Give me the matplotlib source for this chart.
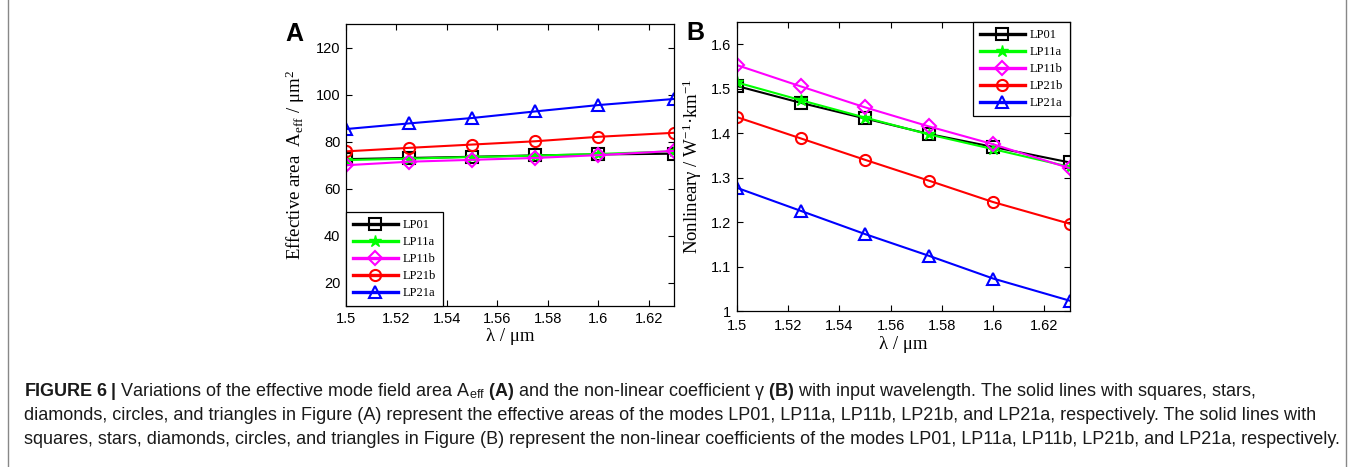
import numpy as np
import matplotlib.pyplot as plt
from matplotlib.lines import Line2D

plt.rcParams['mathtext.fontset'] = 'custom'
plt.rcParams['mathtext.rm'] = 'Liberation Serif'
plt.rcParams['mathtext.it'] = 'Liberation Serif:italic'
plt.rcParams['mathtext.sf'] = 'Liberation Sans'
plt.rcParams['mathtext.bf'] = 'Liberation Sans:bold'

# --- data ---
wl = [1.5, 1.525, 1.55, 1.575, 1.6, 1.63]
modes = ["LP01", "LP11a", "LP11b", "LP21b", "LP21a"]

aeff_lp01 = [72.5, 73.0, 73.5, 74.1, 74.5, 74.8]
aeff_lp11a = [72.1, 72.7, 73.4, 74.0, 74.7, 75.8]
aeff_lp11b = [69.9, 71.4, 72.2, 73.0, 74.2, 76.0]
aeff_lp21b = [75.8, 77.3, 78.7, 80.1, 82.0, 83.7]
aeff_lp21a = [85.3, 87.7, 90.0, 92.8, 95.5, 98.1]

gam_lp01 = [1.506, 1.468, 1.433, 1.398, 1.369, 1.334]
gam_lp11a = [1.514, 1.474, 1.435, 1.397, 1.364, 1.324]
gam_lp11b = [1.553, 1.505, 1.458, 1.415, 1.375, 1.321]
gam_lp21b = [1.436, 1.388, 1.340, 1.293, 1.245, 1.196]
gam_lp21a = [1.277, 1.225, 1.173, 1.124, 1.073, 1.023]

styles = {
    "LP01": ("black", "s"),
    "LP11a": ("#00ff00", "*"),
    "LP11b": ("#ff00ff", "D"),
    "LP21b": ("red", "o"),
    "LP21a": ("blue", "^"),
}

W, H = 1354, 467
fig = plt.figure(figsize=(W / 100, H / 100), dpi=100)

axA = fig.add_axes([346 / W, 1 - 306 / H, 328 / W, 282 / H])
axB = fig.add_axes([737 / W, 1 - 311 / H, 333 / W, 289 / H])

def draw(ax, series, xpad):
    for name, vals in zip(modes, series):
        col, mk = styles[name]
        ms = 8
        if mk == "D":
            ms = 7
        if mk == "*":
            ax.plot(wl, vals, color=col, lw=1.5, marker=mk, ms=9,
                    mfc=col, mec=col, label=name)
        else:
            ax.plot(wl, vals, color=col, lw=1.5, marker=mk, ms=ms,
                    mfc="none", mec=col, mew=1.5, label=name)
    ax.set_xlim(1.5, 1.63)
    ax.set_xticks([1.5, 1.52, 1.54, 1.56, 1.58, 1.6, 1.62])
    ax.set_xticklabels(["1.5", "1.52", "1.54", "1.56", "1.58", "1.6", "1.62"])
    ax.tick_params(direction="in", top=True, right=True, length=4,
                   labelsize=10.5, pad=4)
    ax.tick_params(axis="x", pad=xpad)
    for s in ax.spines.values():
        s.set_linewidth(0.9)
    ax.set_xlabel("λ / μm", family="Liberation Serif", fontsize=13.5, labelpad=2)

draw(axA, [aeff_lp01, aeff_lp11a, aeff_lp11b, aeff_lp21b, aeff_lp21a], 4)
axA.set_ylim(10, 130)
axA.set_yticks([20, 40, 60, 80, 100, 120])
axA.set_ylabel(r"Effective area  A$_{\mathrm{eff}}$ / μm$^{2}$",
               family="Liberation Serif", fontsize=13.5, labelpad=6)

draw(axB, [gam_lp01, gam_lp11a, gam_lp11b, gam_lp21b, gam_lp21a], 6)
axB.set_ylim(1.0, 1.65)
axB.set_yticks([1.0, 1.1, 1.2, 1.3, 1.4, 1.5, 1.6])
axB.set_yticklabels(["1", "1.1", "1.2", "1.3", "1.4", "1.5", "1.6"])
axB.set_ylabel(r"Nonlinearγ / W$^{\mathrm{-1}}$·km$^{\mathrm{-1}}$",
               family="Liberation Serif", fontsize=13.5, labelpad=5)

for ax in (axA, axB):
    for t in ax.get_xticklabels() + ax.get_yticklabels():
        t.set_family("Liberation Sans")

for ax, loc in [(axA, "lower left"), (axB, "upper right")]:
    leg = ax.legend(loc=loc, borderaxespad=0, fancybox=False, framealpha=1,
                    edgecolor="black", handlelength=3.6, labelspacing=0.4,
                    prop={"family": "Liberation Serif", "size": 9},
                    borderpad=0.55, handletextpad=0.4)
    leg.get_frame().set_linewidth(0.9)
    for ln in leg.get_lines():
        ln.set_linewidth(2.4)

fig.text(294 / W, 1 - 34 / H, "A", fontsize=18, fontweight="bold",
         family="Liberation Sans", ha="center", va="center")
fig.text(695 / W, 1 - 33 / H, "B", fontsize=18, fontweight="bold",
         family="Liberation Sans", ha="center", va="center")

# caption
cap = [
    r"$\mathbf{FIGURE\ 6\ |}$ Variations of the effective mode field area A$_{\mathsf{eff}}$ "
    r"$\mathbf{(A)}$ and the non-linear coefficient γ $\mathbf{(B)}$ with input wavelength. "
    "The solid lines with squares, stars,",
    "diamonds, circles, and triangles in Figure (A) represent the effective areas of the modes "
    "LP01, LP11a, LP11b, LP21b, and LP21a, respectively. The solid lines with",
    "squares, stars, diamonds, circles, and triangles in Figure (B) represent the non-linear "
    "coefficients of the modes LP01, LP11a, LP11b, LP21b, and LP21a, respectively.",
]
for i, line in enumerate(cap):
    fig.text(24 / W, 1 - (391 + 24 * i) / H, line, fontsize=13,
             family="Liberation Sans", color="#1a1a1a", ha="left", va="center")

for xp in (8, 1346):
    fig.add_artist(Line2D([xp / W, xp / W], [0, 1], color="#888888", lw=1.0,
                          transform=fig.transFigure))

fig.savefig("out.png", dpi=100)
